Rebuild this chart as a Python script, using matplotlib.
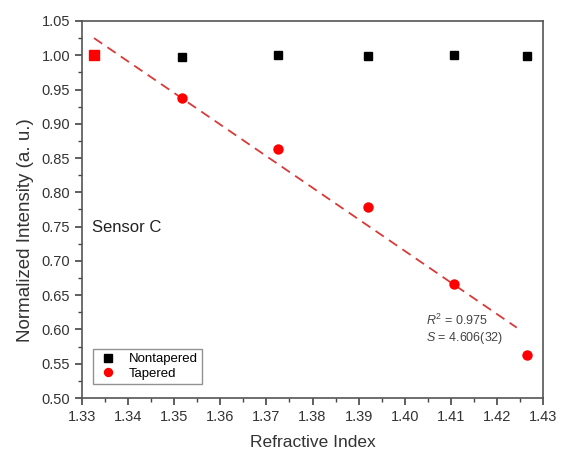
import numpy as np
import matplotlib
matplotlib.use("Agg")

matplotlib.rcParams['font.family'] = ['Liberation Sans', 'DejaVu Sans']
matplotlib.rcParams['mathtext.fontset'] = 'custom'
matplotlib.rcParams['mathtext.it'] = 'Liberation Sans:italic'
matplotlib.rcParams['mathtext.rm'] = 'Liberation Sans'

import matplotlib.pyplot as plt
from matplotlib.ticker import MultipleLocator, FormatStrFormatter

# refractive index of the test liquids
n_ri = [1.3326, 1.3517, 1.3725, 1.3920, 1.4107, 1.4265]

# normalized transmitted intensity
nontapered = [1.000, 0.998, 1.000, 0.999, 1.001, 0.999]
tapered = [1.000, 0.938, 0.863, 0.778, 0.666, 0.563]

# linear fit of the tapered sensor
slope = -4.606
intercept = 7.163
fit_range = [1.3326, 1.4243]

fig = plt.figure(figsize=(5.68, 4.57), dpi=100)
ax = fig.add_axes([0.1444, 0.1291, 0.8116, 0.825])

ax.plot(n_ri[1:], nontapered[1:], 's', color="black", markersize=6,
        label="Nontapered", zorder=3)
ax.plot(n_ri[1:], tapered[1:], 'o', color="red", markersize=7.5,
        markeredgewidth=0, label="Tapered", zorder=3)
# first point is the common reference, both series at 1
ax.plot(n_ri[0], tapered[0], 's', color="red", markersize=7.5, zorder=4)

xf = np.array(fit_range)
ax.plot(xf, intercept + slope*xf, '--', color="#d83a3a", linewidth=1.3,
        dashes=(5.5, 3.5), zorder=2)

ax.set_xlim(1.33, 1.43)
ax.set_ylim(0.50, 1.05)
ax.xaxis.set_major_locator(MultipleLocator(0.01))
ax.xaxis.set_minor_locator(MultipleLocator(0.005))
ax.yaxis.set_major_locator(MultipleLocator(0.05))
ax.yaxis.set_minor_locator(MultipleLocator(0.025))
ax.xaxis.set_major_formatter(FormatStrFormatter('%.2f'))
ax.yaxis.set_major_formatter(FormatStrFormatter('%.2f'))
ax.tick_params(which='both', direction='out', top=False, right=False,
               labelsize=10.5, labelcolor="#333333", color="#444444")
ax.tick_params(which='major', length=5, width=1.2)
ax.tick_params(which='minor', length=3, width=1)
for s in ax.spines.values():
    s.set_color("#555555")
    s.set_linewidth(1.2)

ax.set_xlabel("Refractive Index", fontsize=12.5, color="#333333", labelpad=8)
ax.set_ylabel("Normalized Intensity (a. u.)", fontsize=13.5, color="#333333")
ax.yaxis.set_label_coords(-0.104, 0.445)

ax.text(1.3322, 0.748, "Sensor C", fontsize=12, color="#222222",
        va='center', ha='left')
ax.text(1.4046, 0.600, "$R^2$ = 0.975\n$S$ = 4.606(32)", fontsize=9,
        color="#444444", va='center', ha='left', linespacing=1.15)

ax.legend(loc='lower left', bbox_to_anchor=(0.024, 0.037), fontsize=9.5,
          frameon=True, fancybox=False, edgecolor="#777777",
          handletextpad=0.8, borderpad=0.3, labelspacing=0.2,
          handlelength=1.6, markerscale=0.9, borderaxespad=0)

fig.savefig("out.png", dpi=100)
